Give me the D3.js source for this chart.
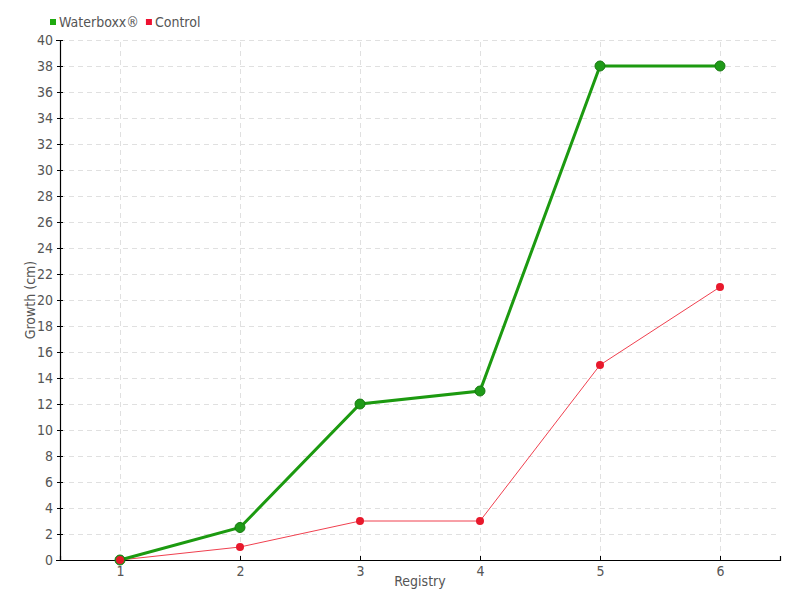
<!DOCTYPE html>
<html>
<head>
<meta charset="utf-8">
<script src="https://cdn.jsdelivr.net/npm/d3@7"></script>
<style>
  body { margin: 0; background: #fff; }
  text { font-family: "DejaVu Sans Condensed", "DejaVu Sans", sans-serif; font-stretch: condensed; fill: #555; }
  .grid line { stroke: #e0e0e0; stroke-dasharray: 5,4; }
  .grid path { display: none; }
  .axis path, .axis line { stroke: #000; }
</style>
</head>
<body>
<svg id="chart" width="800" height="600"></svg>
<script>
var registry = [1, 2, 3, 4, 5, 6];
var waterboxx = [0, 2.5, 12, 13, 38, 38];
var control = [0, 1, 3, 3, 15, 21];
var yTicks = d3.range(0, 41, 2);

var margin = {top: 40, right: 20, bottom: 40, left: 60},
    width = 800 - margin.left - margin.right,
    height = 600 - margin.top - margin.bottom;

var svg = d3.select("#chart")
  .append("g")
    .attr("transform", "translate(" + margin.left + "," + margin.top + ")");

var x = d3.scaleLinear().domain([0.5, 6.5]).range([0, width]);
var y = d3.scaleLinear().domain([0, 40]).range([height, 0]);

// grid
svg.append("g")
    .attr("class", "grid")
    .attr("transform", "translate(0," + height + ")")
    .call(d3.axisBottom(x).tickValues(registry).tickSize(-height).tickFormat(""));
svg.append("g")
    .attr("class", "grid")
    .call(d3.axisLeft(y).tickValues(yTicks).tickSize(-width).tickFormat(""));

// axes
var xAxis = svg.append("g")
    .attr("class", "axis")
    .attr("transform", "translate(0," + height + ")")
    .call(d3.axisBottom(x).tickValues(registry).tickFormat(d3.format("d")).tickSize(-4).tickPadding(6));
xAxis.selectAll("text").style("font-size", "14px");

var yAxis = svg.append("g")
    .attr("class", "axis")
    .call(d3.axisLeft(y).tickValues(yTicks).tickSize(4).tickPadding(3));
yAxis.selectAll("line").attr("x2", -3).attr("x1", 3);
yAxis.selectAll("text").style("font-size", "14px");
svg.selectAll(".axis .domain").attr("stroke-width", 1.2);

// axis titles
svg.append("text")
    .attr("x", width / 2)
    .attr("y", height + 26)
    .attr("text-anchor", "middle")
    .style("font-size", "14px")
    .text("Registry");
svg.append("text")
    .attr("transform", "translate(-25," + (height / 2 - 0) + ") rotate(-90)")
    .attr("text-anchor", "middle")
    .style("font-size", "14px")
    .text("Growth (cm)");

var line = d3.line()
    .x(function(d, i) { return x(registry[i]); })
    .y(function(d) { return y(d); });

// control
svg.append("path")
    .datum(control)
    .attr("fill", "none")
    .attr("stroke", "#f0404f")
    .attr("stroke-width", 1)
    .attr("d", line);

// waterboxx
svg.append("path")
    .datum(waterboxx)
    .attr("fill", "none")
    .attr("stroke", "#1c9a10")
    .attr("stroke-width", 3)
    .attr("d", line);

svg.selectAll(".wpt")
  .data(waterboxx)
  .enter().append("circle")
    .attr("class", "wpt")
    .attr("cx", function(d, i) { return x(registry[i]); })
    .attr("cy", function(d) { return y(d); })
    .attr("r", 5)
    .attr("fill", "#1f9a18")
    .attr("stroke", "#177a10")
    .attr("stroke-width", 1);

svg.selectAll(".cpt")
  .data(control)
  .enter().append("circle")
    .attr("class", "cpt")
    .attr("cx", function(d, i) { return x(registry[i]); })
    .attr("cy", function(d) { return y(d); })
    .attr("r", 4)
    .attr("fill", "#e8192c");

// legend
var legend = d3.select("#chart").append("g").attr("transform", "translate(50,22)");
var items = [{name: "Waterboxx\u00AE", color: "#1faa10"}, {name: "Control", color: "#ee1030"}];
var lx = 0;
items.forEach(function(it) {
  legend.append("rect").attr("x", lx).attr("y", -3).attr("width", 6).attr("height", 6).attr("fill", it.color);
  var t = legend.append("text").attr("x", lx + 9).attr("y", 5).style("font-size", "14px").text(it.name);
  lx += 9 + t.node().getComputedTextLength() + 7;
});
</script>
</body>
</html>
